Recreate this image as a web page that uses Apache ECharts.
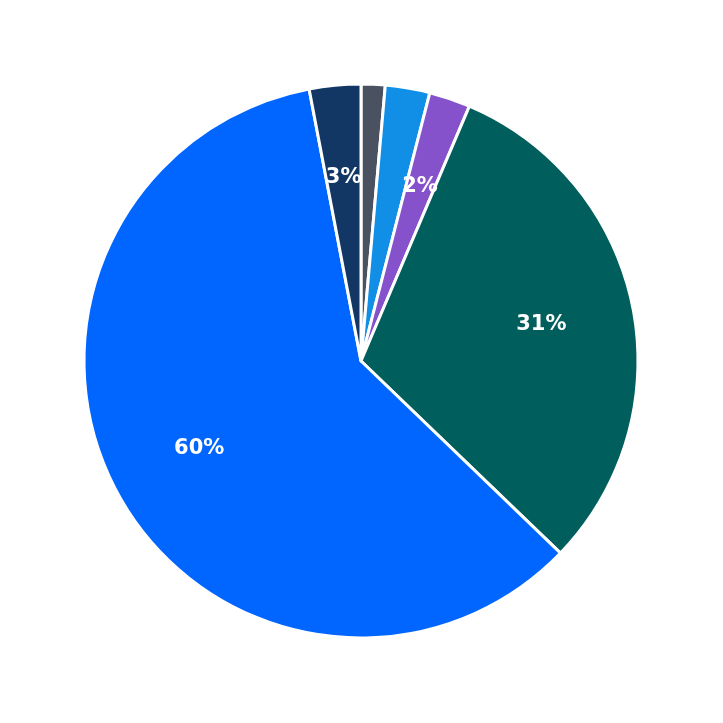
<!DOCTYPE html>
<html>
<head>
<meta charset="utf-8">
<script src="https://cdn.jsdelivr.net/npm/echarts@6/dist/echarts.min.js"></script>
<style>html,body{margin:0;padding:0;background:#fff}#main{width:723px;height:723px}</style>
</head>
<body>
<div id="main"></div>
<script>
// slice values (percent), clockwise from 12 o'clock
var names = ['A', 'B', 'C', 'D', 'E', 'F'];
var values = [1.4, 2.6, 2.4, 30.8, 59.8, 3.0];
var labels = ['1%', '3%', '2%', '31%', '60%', '3%'];
var colors = ['#4a5160', '#118fe6', '#8552cc', '#005f5c', '#0066ff', '#133764'];

var chart = echarts.init(document.getElementById('main'));
var data = values.map(function (v, i) {
	return { name: names[i], value: v, itemStyle: { color: colors[i] } };
});
var labelData = values.map(function (v, i) {
	return { name: names[i], value: v, label: { formatter: labels[i] } };
});
chart.setOption({
	animation: false,
	series: [{
		type: 'pie',
		center: [361, 361],
		radius: [0, 277],
		startAngle: 90,
		clockwise: true,
		label: { show: false },
		labelLine: { show: false },
		itemStyle: { borderColor: '#fff', borderWidth: 3 },
		data: data
	}, {
		// label-only overlay so texts sit at ~0.65 of the radius
		type: 'pie',
		center: [361, 361],
		radius: [0, 362],
		startAngle: 90,
		clockwise: true,
		silent: true,
		itemStyle: { color: 'rgba(0,0,0,0)' },
		label: {
			show: true,
			position: 'inside',
			color: '#fff',
			fontSize: 21,
			fontWeight: 'bold',
			fontFamily: 'DejaVu Sans'
		},
		labelLine: { show: false },
		data: labelData
	}]
});
</script>
</body>
</html>
